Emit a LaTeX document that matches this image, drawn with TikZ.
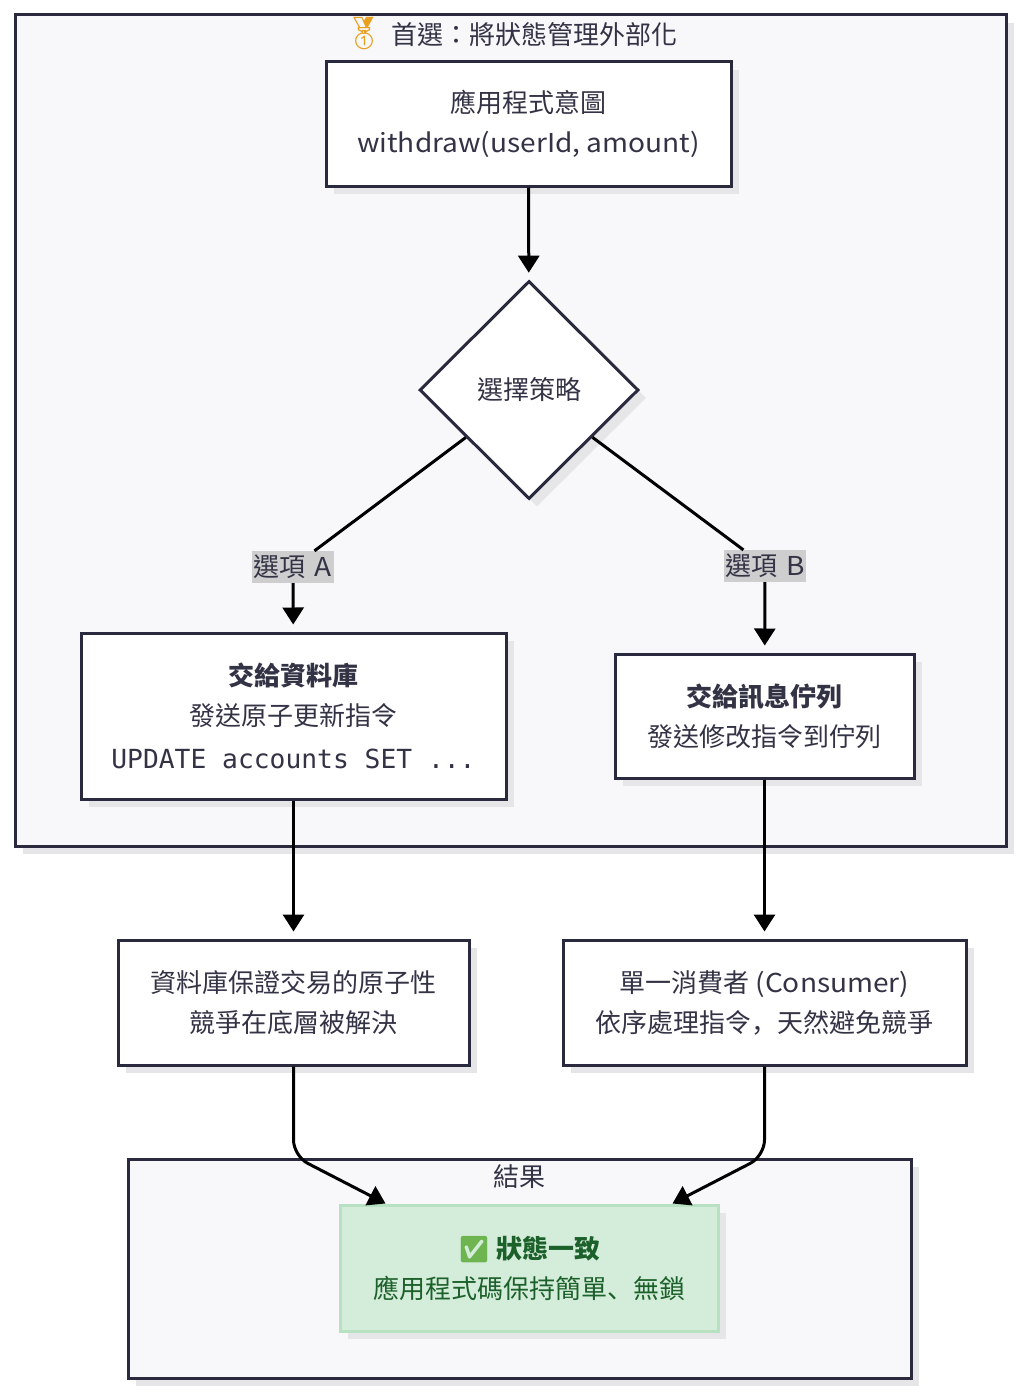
\documentclass[tikz,border=0pt]{standalone}
\usepackage{fontspec}
\setmainfont{Noto Sans CJK TC}
\newfontfamily\monofont{DejaVu Sans Mono}
\newfontfamily\emojifont{Noto Emoji}
\newfontfamily\lat[FakeStretch=1.08]{Noto Sans CJK TC}
\newfontfamily\jpp{Noto Sans CJK JP}
\usetikzlibrary{shapes.geometric,arrows.meta,shadows}
\definecolor{strk}{RGB}{42,42,62}
\definecolor{txt}{RGB}{51,51,70}
\definecolor{clfill}{RGB}{248,248,251}
\definecolor{shdc}{RGB}{230,230,233}
\definecolor{lblfill}{RGB}{206,206,206}
\definecolor{gfill}{RGB}{212,237,218}
\definecolor{gstroke}{RGB}{184,224,194}
\definecolor{gtext}{RGB}{28,96,42}
\definecolor{gold}{RGB}{232,160,30}
\definecolor{chk}{RGB}{110,180,80}
\begin{document}
\begin{tikzpicture}[x=1pt,y=-1pt,
  shd/.style={drop shadow={shadow xshift=8pt,shadow yshift=-8pt,fill=shdc,opacity=1}},
  base/.style={align=center,text=txt,font=\fontsize{26}{40}\selectfont,inner sep=0pt},
  box/.style={base,draw=strk,line width=3pt,fill=white,shd,rectangle},
  cluster/.style={draw=strk,line width=3pt,fill=clfill,shd,rectangle,inner sep=0pt},
  lbl/.style={base,fill=lblfill,inner xsep=1.5pt,inner ysep=4pt},
  arr/.style={-{Triangle[length=17pt,width=21pt]},line width=3pt,black},
  plain/.style={line width=3pt,black}
]
\useasboundingbox[fill=white] (0,0) rectangle (1024,1397);

% clusters
\node[cluster,minimum width=991pt,minimum height=831pt] (top) at (510.5,430.5) {};
\node[base] (toptitle) at (510.5,34) {\textcolor{gold}{\emojifont\fontsize{32}{40}\selectfont 🥇}\hspace{8pt}首選：將狀態管理外部化};
\node[cluster,minimum width=783pt,minimum height=219pt] (res) at (519.5,1268.5) {};
\node[base] (restitle) at (519.5,1177) {結果};

% nodes
\node[box,minimum width=405pt,minimum height=124pt] (I) at (528.5,124) {應用程式意圖\\{\lat withdraw(userId, amount)}};
\node[box,diamond,aspect=1,minimum width=219pt,minimum height=218pt] (D) at (529,390) {選擇策略};
\node[box,minimum width=425pt,minimum height=166pt] (A) at (293.5,716)
  {\textbf{交給資料庫}\\發送原子更新指令\\[3pt]{\monofont\fontsize{26.3}{40}\selectfont UPDATE accounts SET ...}};
\node[box,minimum width=299pt,minimum height=124pt] (B) at (764.5,716) {\textbf{交給訊息佇列}\\發送修改指令到佇列};
\node[box,minimum width=351pt,minimum height=125pt] (C) at (293.5,1002.5) {資料庫保證交易的原子性\\競爭在底層被解決};
\node[box,minimum width=403pt,minimum height=125pt] (E) at (764.5,1002.5) {單一消費者 {\lat(Consumer)}\\依序處理指令{\jpp ，}天然避免競爭};
\node[box,draw=gstroke,fill=gfill,text=gtext,minimum width=378pt,minimum height=126pt] (G) at (529,1268)
  {\textbf{\textcolor{chk}{\emojifont ✅}\hspace{6pt}狀態一致}\\應用程式碼保持簡單{\jpp 、}無鎖};

% labels
\node[lbl] (la) at (293,567) {選項\hspace{9pt}{\lat A}};
\node[lbl] (lb) at (765,566) {選項\hspace{9pt}{\lat B}};

% edges
\draw[arr,shorten >=7pt] (I) -- (D);
\draw[plain] (D) -- (la);
\draw[plain] (D) -- (lb);
\draw[arr,shorten >=7pt] (la) -- (A);
\draw[arr,shorten >=7pt] (lb) -- (B);
\draw[arr,shorten >=7pt] (A) -- (C);
\draw[arr,shorten >=7pt] (B) -- (E);
\coordinate (g1) at ([xshift=47pt]G.north west);
\coordinate (g2) at ([xshift=-47pt]G.north east);
\draw[arr,rounded corners=16pt] (C.south) -- (C.south |- 0,1156) -- (g1);
\draw[arr,rounded corners=16pt] (E.south) -- (E.south |- 0,1156) -- (g2);
\end{tikzpicture}
\end{document}
